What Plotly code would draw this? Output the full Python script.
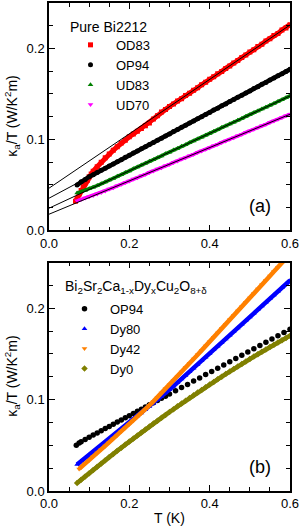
import plotly.graph_objects as go

# ---------------- Panel (a): pure Bi2212 ----------------
T_od83 = [0.066, 0.07, 0.075, 0.08, 0.085, 0.09, 0.095, 0.10, 0.105, 0.11, 0.12, 0.13, 0.14, 0.15, 0.16,
          0.17, 0.18, 0.19, 0.20, 0.21, 0.22, 0.23, 0.24, 0.25, 0.26, 0.27, 0.28, 0.29, 0.30, 0.31,
          0.32, 0.33, 0.34, 0.35, 0.36, 0.37, 0.38, 0.39, 0.40, 0.41, 0.42, 0.43, 0.44, 0.45, 0.46,
          0.47, 0.48, 0.49, 0.50, 0.51, 0.52, 0.53, 0.54, 0.55, 0.56, 0.57, 0.58, 0.59, 0.60]
k_od83 = [0.032, 0.035, 0.040, 0.044, 0.048, 0.052, 0.055, 0.059, 0.062, 0.065, 0.070, 0.075, 0.080, 0.084, 0.088,
          0.092, 0.096, 0.099, 0.103, 0.106, 0.109, 0.112, 0.115, 0.118, 0.1225, 0.126, 0.1302, 0.1329, 0.1363, 0.1390,
          0.1423, 0.1448, 0.1482, 0.1509, 0.1541, 0.1568, 0.1602, 0.1629, 0.1662, 0.1689, 0.1721, 0.1747, 0.1781, 0.1807, 0.1841,
          0.1868, 0.1901, 0.1927, 0.1962, 0.1987, 0.2021, 0.2046, 0.2081, 0.2106, 0.2142, 0.2166, 0.2203, 0.2226, 0.2262]

T_a = [0.07, 0.08, 0.09, 0.10, 0.11, 0.12, 0.13, 0.14, 0.15, 0.16, 0.17, 0.18, 0.19, 0.20, 0.21, 0.22, 0.23, 0.24,
       0.25, 0.26, 0.27, 0.28, 0.29, 0.30, 0.31, 0.32, 0.33, 0.34, 0.35, 0.36, 0.37, 0.38, 0.39, 0.40, 0.41, 0.42,
       0.43, 0.44, 0.45, 0.46, 0.47, 0.48, 0.49, 0.50, 0.51, 0.52, 0.53, 0.54, 0.55, 0.56, 0.57, 0.58, 0.59, 0.60]
k_op94 = [0.0500, 0.0535, 0.0560, 0.0590, 0.0612, 0.0636, 0.0662, 0.0683, 0.0709, 0.0731, 0.0756, 0.0778, 0.0803, 0.0825,
          0.0851, 0.0872, 0.0898, 0.0919, 0.0945, 0.0967, 0.0992, 0.1014, 0.1039, 0.1061, 0.1087, 0.1108, 0.1134, 0.1155,
          0.1181, 0.1203, 0.1228, 0.1250, 0.1275, 0.1297, 0.1323, 0.1344, 0.1370, 0.1391, 0.1417, 0.1439, 0.1464, 0.1486,
          0.1511, 0.1533, 0.1559, 0.1580, 0.1606, 0.1627, 0.1653, 0.1675, 0.1700, 0.1722, 0.1747, 0.1771]
k_ud83 = [0.0410, 0.0425, 0.0440, 0.0458, 0.0475, 0.0493, 0.0512, 0.0531, 0.0554, 0.0572, 0.0595, 0.0613, 0.0636, 0.0654,
          0.0677, 0.0696, 0.0718, 0.0737, 0.0759, 0.0778, 0.0800, 0.0819, 0.0842, 0.0860, 0.0883, 0.0901, 0.0924, 0.0942,
          0.0965, 0.0984, 0.1006, 0.1025, 0.1047, 0.1066, 0.1088, 0.1107, 0.1130, 0.1148, 0.1171, 0.1189, 0.1212, 0.1230,
          0.1253, 0.1272, 0.1294, 0.1313, 0.1335, 0.1354, 0.1376, 0.1395, 0.1417, 0.1436, 0.1459, 0.1479]
k_ud70 = [0.0325, 0.0340, 0.0355, 0.0370, 0.0385, 0.0401, 0.0417, 0.0433, 0.0454, 0.0470, 0.0490, 0.0507, 0.0527, 0.0543,
          0.0564, 0.0580, 0.0600, 0.0617, 0.0637, 0.0653, 0.0674, 0.0690, 0.0710, 0.0727, 0.0747, 0.0763, 0.0784, 0.0800,
          0.0820, 0.0837, 0.0857, 0.0873, 0.0893, 0.0910, 0.0930, 0.0946, 0.0967, 0.0983, 0.1003, 0.1020, 0.1040, 0.1056,
          0.1077, 0.1093, 0.1113, 0.1130, 0.1150, 0.1166, 0.1187, 0.1203, 0.1223, 0.1240, 0.1260, 0.1278]

# linear fits (values at T = 0 and T = 0.6)
T_fit = [0.0, 0.6]
fit_od83 = [0.0464, 0.2258]
fit_op94 = [0.0354, 0.1770]
fit_ud83 = [0.0244, 0.1478]
fit_ud70 = [0.0178, 0.1277]

# ---------------- Panel (b): Dy-doped ----------------
T_op94b = [0.068, 0.075, 0.08, 0.09, 0.10, 0.11, 0.12, 0.13, 0.14, 0.15, 0.16, 0.17, 0.18, 0.19, 0.20, 0.21, 0.22,
           0.23, 0.24, 0.25, 0.26, 0.27, 0.28, 0.29, 0.30, 0.315, 0.33, 0.345, 0.36, 0.375, 0.39, 0.405, 0.42,
           0.435, 0.45, 0.465, 0.48, 0.495, 0.51, 0.525, 0.54, 0.555, 0.57, 0.585, 0.60]
k_op94b = [0.0500, 0.0525, 0.0540, 0.0565, 0.0588, 0.0612, 0.0636, 0.0660, 0.0683, 0.0707, 0.0731, 0.0754, 0.0778,
           0.0801, 0.0825, 0.0849, 0.0872, 0.0896, 0.0919, 0.0943, 0.0967, 0.0990, 0.1014, 0.1037, 0.1061, 0.1097,
           0.1132, 0.1167, 0.1203, 0.1238, 0.1274, 0.1309, 0.1345, 0.1380, 0.1415, 0.1451, 0.1486, 0.1522, 0.1558,
           0.1593, 0.1628, 0.1664, 0.1700, 0.1735, 0.1770]

T_b = [0.07, 0.08, 0.09, 0.10, 0.11, 0.12, 0.13, 0.14, 0.15, 0.16, 0.17, 0.18, 0.19, 0.20, 0.21, 0.22, 0.23, 0.24,
       0.25, 0.26, 0.27, 0.28, 0.29, 0.30, 0.31, 0.32, 0.33, 0.34, 0.35, 0.36, 0.37, 0.38, 0.39, 0.40, 0.41, 0.42,
       0.43, 0.44, 0.45, 0.46, 0.47, 0.48, 0.49, 0.50, 0.51, 0.52, 0.53, 0.54, 0.55, 0.56, 0.57, 0.58, 0.59, 0.60]
k_dy80 = [0.0290, 0.0325, 0.0360, 0.0395, 0.0430, 0.0465, 0.0500, 0.0535, 0.0570, 0.0605, 0.0640, 0.0675, 0.0710,
          0.0745, 0.0780, 0.0820, 0.0855, 0.0890, 0.0925, 0.0960, 0.0997, 0.1034, 0.1072, 0.1110, 0.1148, 0.1187,
          0.1226, 0.1265, 0.1305, 0.1345, 0.1385, 0.1425, 0.1465, 0.1505, 0.1545, 0.1585, 0.1625, 0.1665, 0.1705,
          0.1745, 0.1785, 0.1825, 0.1865, 0.1905, 0.1945, 0.1985, 0.2025, 0.2065, 0.2105, 0.2145, 0.2185, 0.2225,
          0.2265, 0.2305]
T_dy42 = [0.075, 0.08, 0.09, 0.10, 0.11, 0.12, 0.13, 0.14, 0.15, 0.16, 0.17, 0.18, 0.19, 0.20, 0.21, 0.22, 0.23,
          0.24, 0.25, 0.26, 0.27, 0.28, 0.29, 0.30, 0.31, 0.32, 0.33, 0.34, 0.35, 0.36, 0.37, 0.38, 0.39, 0.40,
          0.41, 0.42, 0.43, 0.44, 0.45, 0.46, 0.47, 0.48, 0.49, 0.50, 0.51, 0.52, 0.53, 0.54, 0.55, 0.56, 0.57,
          0.58, 0.59]
k_dy42 = [0.0242, 0.0260, 0.0300, 0.0338, 0.0377, 0.0416, 0.0455, 0.0494, 0.0533, 0.0572, 0.0611, 0.0650, 0.0690,
          0.0730, 0.0770, 0.0810, 0.0852, 0.0894, 0.0937, 0.0981, 0.1026, 0.1072, 0.1118, 0.1164, 0.1210, 0.1257,
          0.1304, 0.1351, 0.1398, 0.1445, 0.1492, 0.1539, 0.1586, 0.1634, 0.1682, 0.1730, 0.1778, 0.1826, 0.1874,
          0.1922, 0.1970, 0.2018, 0.2066, 0.2114, 0.2162, 0.2210, 0.2258, 0.2306, 0.2354, 0.2402, 0.2450, 0.2498,
          0.2546]
k_dy0 = [0.0087, 0.0124, 0.0160, 0.0195, 0.0231, 0.0266, 0.0302, 0.0336, 0.0371, 0.0406, 0.0440, 0.0474, 0.0508,
         0.0541, 0.0575, 0.0608, 0.0641, 0.0673, 0.0706, 0.0738, 0.0770, 0.0802, 0.0833, 0.0865, 0.0896, 0.0927,
         0.0957, 0.0988, 0.1018, 0.1048, 0.1078, 0.1107, 0.1136, 0.1165, 0.1194, 0.1223, 0.1251, 0.1280, 0.1307,
         0.1335, 0.1363, 0.1390, 0.1417, 0.1444, 0.1471, 0.1497, 0.1523, 0.1549, 0.1575, 0.1600, 0.1625, 0.1650,
         0.1675, 0.1700]

FONT = "Liberation Sans, Arial, sans-serif"
fig = go.Figure()


def band(x, y, name, color, symbol, msize, lw, xa, ya, legend):
    if lw > 0:
        fig.add_trace(go.Scatter(x=x, y=y, mode="lines", xaxis=xa, yaxis=ya, showlegend=False,
                                 line=dict(color=color, width=lw), hoverinfo="skip"))
    fig.add_trace(go.Scatter(x=x, y=y, mode="markers", name=name, xaxis=xa, yaxis=ya, legend=legend,
                             marker=dict(color=color, symbol=symbol, size=msize, line=dict(width=0))))


band(T_od83, k_od83, "OD83", "#ff0000", "square", 5, 5, "x", "y", "legend")
band(T_a, k_op94, "OP94", "#000000", "circle", 5, 4.5, "x", "y", "legend")
band(T_a, k_ud83, "UD83", "#008000", "triangle-up", 5, 3.5, "x", "y", "legend")
band(T_a, k_ud70, "UD70", "#ff00ff", "triangle-down", 5, 3.5, "x", "y", "legend")
for f in [fit_od83, fit_op94, fit_ud83, fit_ud70]:
    fig.add_trace(go.Scatter(x=T_fit, y=f, mode="lines", line=dict(color="black", width=1),
                             showlegend=False, xaxis="x", yaxis="y", hoverinfo="skip"))

band(T_op94b, k_op94b, "OP94", "#000000", "circle", 5.5, 0, "x2", "y2", "legend2")
band(T_b, k_dy80, "Dy80", "#0000ff", "triangle-up", 5, 4.5, "x2", "y2", "legend2")
band(T_dy42, k_dy42, "Dy42", "#ff8000", "triangle-down", 5, 4.5, "x2", "y2", "legend2")
band(T_b, k_dy0, "Dy0", "#808000", "diamond", 5, 4.5, "x2", "y2", "legend2")

axis_common = dict(showline=True, linecolor="black", linewidth=1.5, mirror="ticks", ticks="inside",
                   ticklen=6, tickwidth=1.2, tickcolor="black", showgrid=False, zeroline=False,
                   tickfont=dict(family=FONT, size=13, color="black"))
xcommon = dict(axis_common, range=[0, 0.6], dtick=0.2, tick0=0, tickformat=".1f",
               minor=dict(dtick=0.05, ticks="inside", ticklen=4, tickcolor="black", tickwidth=1.2))
ycommon = dict(axis_common, range=[0, 0.25], dtick=0.1, tick0=0, tickformat=".1f",
               minor=dict(dtick=0.025, ticks="inside", ticklen=4, tickcolor="black", tickwidth=1.2))

legend_common = dict(bgcolor="rgba(0,0,0,0)", borderwidth=0, font=dict(family=FONT, size=13, color="black"),
                     xanchor="left", yanchor="top", itemwidth=41, tracegroupgap=0)

fig.update_layout(
    width=300, height=530,
    margin=dict(l=49, r=10, t=1, b=39),
    paper_bgcolor="white", plot_bgcolor="white",
    font=dict(family=FONT, size=13, color="black"),
    xaxis=dict(xcommon, domain=[0, 1], anchor="y"),
    yaxis=dict(ycommon, domain=[0.534, 1], anchor="x"),
    xaxis2=dict(xcommon, domain=[0, 1], anchor="y2"),
    yaxis2=dict(ycommon, domain=[0, 0.468], anchor="x2"),
    legend=dict(legend_common, x=(65 - 49) / 241, y=(491 - 28) / 490),
    legend2=dict(legend_common, x=(59 - 49) / 241, y=(491 - 293) / 490),
    showlegend=True,
)

ann_font = dict(family=FONT, size=14, color="black")
fig.add_annotation(text="Pure Bi2212", xref="paper", yref="paper", x=(68 - 49) / 241, y=(491 - 25) / 490,
                   showarrow=False, font=ann_font, xanchor="left", yanchor="middle")
fig.add_annotation(text="Bi<sub>2</sub>Sr<sub>2</sub>Ca<sub>1-x</sub>Dy<sub>x</sub>Cu<sub>2</sub>O<sub>8+δ</sub>",
                   xref="paper", yref="paper", x=(63 - 49) / 241, y=(491 - 286) / 490,
                   showarrow=False, font=ann_font, xanchor="left", yanchor="middle")

ytitle = "κ<sub>a</sub>/T (W/K<sup>2</sup>m)"
fig.add_annotation(text=ytitle, xref="paper", yref="paper", x=(12 - 49) / 241, y=(0.534 + 1) / 2, textangle=-90,
                   showarrow=False, font=ann_font, xanchor="center", yanchor="middle")
fig.add_annotation(text=ytitle, xref="paper", yref="paper", x=(12 - 49) / 241, y=0.468 / 2, textangle=-90,
                   showarrow=False, font=ann_font, xanchor="center", yanchor="middle")
fig.add_annotation(text="T (K)", xref="paper", yref="paper", x=0.5, y=(491 - 518) / 490, showarrow=False,
                   font=ann_font, xanchor="center", yanchor="middle")
fig.add_annotation(text="(a)", xref="paper", yref="paper", x=(260 - 49) / 241, y=(491 - 205) / 490,
                   showarrow=False, font=dict(family=FONT, size=18, color="black"), xanchor="center", yanchor="middle")
fig.add_annotation(text="(b)", xref="paper", yref="paper", x=(260 - 49) / 241, y=(491 - 467) / 490,
                   showarrow=False, font=dict(family=FONT, size=18, color="black"), xanchor="center", yanchor="middle")

fig.write_html("out.html", config={"displayModeBar": False},
               post_script="document.body.style.margin='0';document.body.style.overflow='hidden';")
